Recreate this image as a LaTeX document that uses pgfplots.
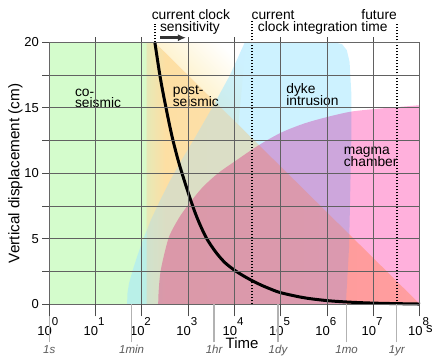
\documentclass[border=0pt]{standalone}
\usepackage{fontspec}
\setmainfont{Liberation Sans}
\usepackage{pgfplots}
\pgfplotsset{compat=1.18}
\usetikzlibrary{arrows.meta}

\definecolor{cgreen}{RGB}{212,252,204}
\definecolor{cyellow}{RGB}{253,233,170}
\definecolor{cyellowlt}{RGB}{255,242,204}
\definecolor{corange}{RGB}{255,200,150}
\definecolor{ccyan}{RGB}{164,231,255}
\definecolor{cpink}{RGB}{255,176,220}
\definecolor{labgray}{RGB}{90,90,90}

% decade tick label: "10" hangs left of the tick, exponent right of it
\newcommand{\dec}[1]{\makebox[0pt][r]{10}\raisebox{0.72em}{\fontsize{11.5bp}{11.5bp}\selectfont #1}}
\newcommand{\ann}{\fontsize{13.8bp}{12bp}\selectfont}
\newcommand{\tlab}{\fontsize{11.5bp}{11.5bp}\selectfont\itshape}

\begin{document}
\begin{tikzpicture}
\begin{axis}[
  scale only axis, width=370.7bp, height=262bp,
  xmin=0, xmax=8, ymin=0, ymax=20,
  clip=false, axis on top,
  axis line style={black!60, line width=1bp},
  xtick={0,...,8},
  xticklabels={\dec{0},\dec{1},\dec{2},\dec{3},\dec{4},\dec{5},\dec{6},\dec{7},\dec{8}},
  xticklabel style={anchor=base west, font=\fontsize{13bp}{13bp}\selectfont, yshift=-24bp, xshift=-1bp},
  ytick={0,2.5,...,20},
  yticklabels={0,,5,,10,,15,,20},
  yticklabel style={font=\fontsize{13bp}{13bp}\selectfont},
  xtick pos=bottom, ytick pos=left,
  tick align=outside, major tick length=7bp,
  every tick/.append style={black!70, line width=1bp},
  grid=major,
  grid style={black!62, line width=1bp},
  extra x ticks={0,1.778,3.556,4.936,6.415,7.499},
  extra x tick labels={},
  extra x tick style={grid=none, major tick length=38bp,
    tick style={black!30, line width=1.3bp}},
  xlabel={Time},
  every axis x label/.style={at={(rel axis cs:0.52,0)}, anchor=base, yshift=-44bp, font=\fontsize{15bp}{15bp}\selectfont},
  ylabel={Vertical displacement (cm)},
  every axis y label/.style={at={(rel axis cs:0,0.5)}, xshift=-34bp, rotate=90, anchor=center, font=\fontsize{15.3bp}{15bp}\selectfont},
]
% co-seismic
\addplot[draw=none, fill=cgreen] coordinates {(0,0) (0,20) (2.0,20) (2.0,0)} -- cycle;
\addplot[draw=none, left color=cgreen, right color=cyellow] coordinates {(2.0,0) (2.0,20) (2.28,20) (2.5,19.23) (2.5,0)} -- cycle;
% post-seismic
\addplot[draw=none, left color=cyellow, right color=cyellowlt] coordinates {(2.5,0) (2.5,19.23) (8,0)} -- cycle;
\addplot[draw=none, top color=white, bottom color=cyellow, shading angle=-45] coordinates {(2.28,20) (4.25,20) (4.08,13.7)} -- cycle;
% dyke intrusion
\addplot[draw=none, fill=ccyan, fill opacity=0.55] coordinates {
  (1.68,0) (1.685,0.8) (1.72,1.6) (1.8,2.6) (1.9,3.7) (2.02,4.9) (2.2,6.5) (2.4,8.0)
  (2.6,9.4) (2.82,10.8) (3.14,12.7) (3.53,15.1) (3.9,17.5) (4.22,20) (6.15,20)
  (6.32,19.85) (6.42,19.4) (6.48,18.5) (6.52,16) (6.52,13) (6.5,9.5) (6.47,4.4) (6.4,0)} -- cycle;
% warm tint of the post-seismic band over the dyke layer
\addplot[draw=none, fill=corange, fill opacity=0.3] coordinates {(2.1,0) (2.1,20) (2.28,20) (8,0)} -- cycle;
% magma chamber
\addplot[draw=none, fill=cpink, blend mode=multiply, smooth] coordinates {
  (2.35,0) (2.36,1.0) (2.40,2.5) (2.5,4.1) (2.6,5.3) (2.8,6.6) (3.0,7.6) (3.3,8.9)
  (3.64,10.0) (4.0,10.9) (4.5,12.1) (5.0,13.1) (5.5,13.8) (6.0,14.3) (6.5,14.7)
  (7.0,14.9) (7.5,15.05) (8,15.2)} \closedcycle;
% decay curve
\addplot[black, line width=3bp, smooth] coordinates {
  (2.278,20) (2.4,17.2) (2.53,14.8) (2.65,12.8) (2.78,11.0) (2.9,9.6) (3.0,8.5)
  (3.125,7.2) (3.25,6.1) (3.4,5.0) (3.6,3.95) (3.8,3.15) (4.04,2.5) (4.3,1.95)
  (4.54,1.52) (4.75,1.2) (5.0,0.88) (5.5,0.5) (6.0,0.28) (6.5,0.16) (7.0,0.09)
  (7.5,0.05) (8.0,0.02)};
% clock markers
\addplot[black, line width=1.6bp, dash pattern=on 1.5bp off 1.5bp] coordinates {(2.278,20) (2.278,21.4)};
\addplot[black, line width=1.6bp, dash pattern=on 1.5bp off 1.5bp] coordinates {(4.38,0) (4.38,21.6)};
\addplot[black, line width=1.6bp, dash pattern=on 1.5bp off 1.5bp] coordinates {(7.5,0) (7.5,21.4)};
\addplot[black!80, line width=2.5bp, -{Latex[length=8bp, width=7bp]}] coordinates {(2.39,20.35) (2.95,20.35)};
% labels
\node[anchor=base west, font=\ann] at (axis cs:0.48,15.9) {co-};
\node[anchor=base west, font=\ann] at (axis cs:0.48,15.0) {seismic};
\node[anchor=base west, font=\ann] at (axis cs:2.59,16.0) {post-};
\node[anchor=base west, font=\ann] at (axis cs:2.59,15.1) {seismic};
\node[anchor=base west, font=\ann] at (axis cs:5.04,16.07) {dyke};
\node[anchor=base west, font=\ann] at (axis cs:5.04,15.15) {intrusion};
\node[anchor=base west, font=\ann] at (axis cs:6.28,11.4) {magma};
\node[anchor=base west, font=\ann] at (axis cs:6.28,10.5) {chamber};
\node[anchor=base west, font=\ann, inner sep=0pt] at (axis cs:2.207,21.73) {current clock};
\node[anchor=base west, font=\ann, inner sep=0pt] at (axis cs:2.386,20.81) {sensitivity};
\node[anchor=base west, font=\ann, inner sep=0pt] at (axis cs:4.362,21.73) {current};
\node[anchor=base west, font=\ann, inner sep=0pt] at (axis cs:4.498,20.81) {clock integration time};
\node[anchor=base west, font=\ann, inner sep=0pt] at (axis cs:6.733,21.73) {future};
\node[anchor=base west, inner sep=0pt, font=\fontsize{13bp}{13bp}\selectfont] at (axis cs:8,0) [xshift=6bp, yshift=-28bp] {s};
% time-unit labels under the gray ticks
\node[anchor=base, inner sep=0pt, text=labgray, font=\tlab] at (axis cs:0,0) [yshift=-49bp] {1s};
\node[anchor=base, inner sep=0pt, text=labgray, font=\tlab] at (axis cs:1.778,0) [yshift=-49bp] {1min};
\node[anchor=base, inner sep=0pt, text=labgray, font=\tlab] at (axis cs:3.556,0) [yshift=-49bp] {1hr};
\node[anchor=base, inner sep=0pt, text=labgray, font=\tlab] at (axis cs:4.936,0) [yshift=-49bp] {1dy};
\node[anchor=base, inner sep=0pt, text=labgray, font=\tlab] at (axis cs:6.415,0) [yshift=-49bp] {1mo};
\node[anchor=base, inner sep=0pt, text=labgray, font=\tlab] at (axis cs:7.499,0) [yshift=-49bp] {1yr};
\end{axis}
% longer decade ticks below the axis
\begin{axis}[
  scale only axis, width=370.7bp, height=262bp,
  xmin=0, xmax=8, ymin=0, ymax=20,
  axis x line*=bottom, axis y line=none,
  axis line style={draw=none},
  xtick={0,...,8}, xticklabels={},
  tick align=outside, major tick length=12bp,
  every tick/.append style={black!70, line width=1bp},
]
\end{axis}
% short ticks above the axis
\begin{axis}[
  scale only axis, width=370.7bp, height=262bp,
  xmin=0, xmax=8, ymin=0, ymax=20,
  axis x line*=top, axis y line=none,
  axis line style={draw=none},
  xtick={1,...,7}, xticklabels={},
  tick align=outside, major tick length=5bp,
  every tick/.append style={black!70, line width=1bp},
]
\end{axis}
\pgfresetboundingbox
\path[use as bounding box] (-49.3bp,-59.7bp) rectangle (386.7bp,304.3bp);
\end{tikzpicture}
\end{document}
